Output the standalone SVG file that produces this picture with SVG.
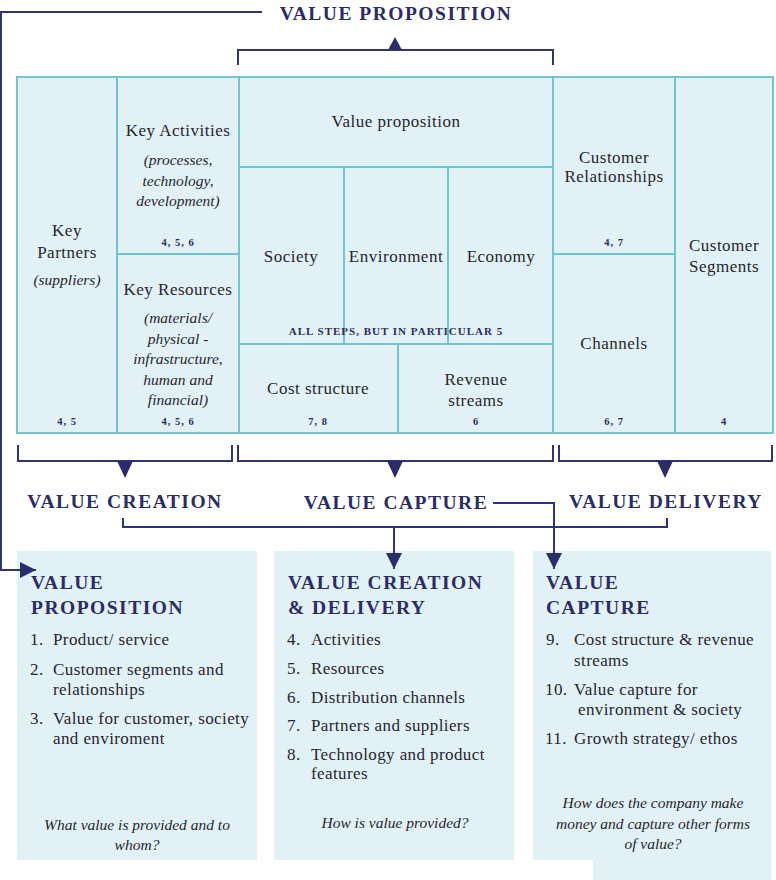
<svg xmlns="http://www.w3.org/2000/svg" width="776" height="880" viewBox="0 0 776 880">
<style>
.cell{fill:#e2f1f5;stroke:#6fc6cf;stroke-width:2}
.grid{stroke:#6fc6cf;stroke-width:2;fill:none}
.box{fill:#e2f1f5}
.t{font-family:"Liberation Serif",serif;font-size:17px;letter-spacing:0.5px;fill:#26262f;text-anchor:middle}
.i{font-family:"Liberation Serif",serif;font-size:15.5px;font-style:italic;fill:#26262f;text-anchor:middle}
.n{font-family:"Liberation Serif",serif;font-size:10.5px;font-weight:bold;letter-spacing:1px;fill:#2b2d5e;text-anchor:middle}
.cap{font-family:"Liberation Serif",serif;font-size:11px;font-weight:bold;fill:#2b2d5e;text-anchor:middle;letter-spacing:1px}
.h{font-family:"Liberation Serif",serif;font-size:19.5px;font-weight:bold;fill:#2a2c66;letter-spacing:1.5px}
.hm{text-anchor:middle}
.li{font-family:"Liberation Serif",serif;font-size:17px;letter-spacing:0.4px;fill:#26262f}
.q{font-family:"Liberation Serif",serif;font-size:15.5px;font-style:italic;fill:#26262f;text-anchor:middle}
.ln{stroke:#2f3474;stroke-width:2;fill:none}
.ah{fill:#2b2d6a}
</style>
<defs>
<marker id="arr" viewBox="0 0 10 10" refX="10" refY="5" markerWidth="17" markerHeight="16" markerUnits="userSpaceOnUse" orient="auto">
<path d="M0,0 L10,5 L0,10 z" fill="#2b2d6a"/>
</marker>
</defs>

<g id="canvas">
<rect class="cell" x="17" y="77" width="756" height="356"/>
<path class="grid" d="M117,77V433 M239,77V433 M553,77V433 M675,77V433 M117,254H239 M239,167H553 M239,344H553 M344,167V344 M448,167V344 M398,344V433 M553,254H675"/>
</g>

<g id="key-partners">
<text class="t" x="67" y="236">Key</text>
<text class="t" x="67" y="258">Partners</text>
<text class="i" x="67" y="285">(suppliers)</text>
<text class="n" x="67" y="425">4, 5</text>
</g>
<g id="key-activities">
<text class="t" x="178" y="136">Key Activities</text>
<text class="i" x="178" y="165">(processes,</text>
<text class="i" x="178" y="186">technology,</text>
<text class="i" x="178" y="206">development)</text>
<text class="n" x="178" y="246">4, 5, 6</text>
</g>
<g id="key-resources">
<text class="t" x="178" y="295">Key Resources</text>
<text class="i" x="178" y="323">(materials/</text>
<text class="i" x="178" y="344">physical -</text>
<text class="i" x="178" y="364">infrastructure,</text>
<text class="i" x="178" y="385">human and</text>
<text class="i" x="178" y="405">financial)</text>
<text class="n" x="178" y="425">4, 5, 6</text>
</g>
<g id="value-proposition">
<text class="t" x="396" y="127">Value proposition</text>
</g>
<g id="society"><text class="t" x="291" y="262">Society</text></g>
<g id="environment"><text class="t" x="396" y="262">Environment</text></g>
<g id="economy"><text class="t" x="501" y="262">Economy</text></g>
<g id="all-steps"><text class="cap" x="396" y="335">ALL STEPS, BUT IN PARTICULAR 5</text></g>
<g id="cost-structure">
<text class="t" x="318" y="394">Cost structure</text>
<text class="n" x="318" y="425">7, 8</text>
</g>
<g id="revenue-streams">
<text class="t" x="476" y="385">Revenue</text>
<text class="t" x="476" y="406">streams</text>
<text class="n" x="476" y="425">6</text>
</g>
<g id="customer-relationships">
<text class="t" x="614" y="163">Customer</text>
<text class="t" x="614" y="182">Relationships</text>
<text class="n" x="614" y="246">4, 7</text>
</g>
<g id="channels">
<text class="t" x="614" y="349">Channels</text>
<text class="n" x="614" y="425">6, 7</text>
</g>
<g id="customer-segments">
<text class="t" x="724" y="251">Customer</text>
<text class="t" x="724" y="272">Segments</text>
<text class="n" x="724" y="425">4</text>
</g>

<g id="label-value-proposition"><text class="h hm" x="396" y="20">VALUE PROPOSITION</text></g>
<g id="label-value-creation"><text class="h hm" x="125" y="508">VALUE CREATION</text></g>
<g id="label-value-capture"><text class="h hm" x="396" y="509">VALUE CAPTURE</text></g>
<g id="label-value-delivery"><text class="h hm" x="666" y="508">VALUE DELIVERY</text></g>

<g id="box-value-proposition">
<rect class="box" x="17" y="551" width="240" height="309"/>
<text class="h" x="31" y="589">VALUE</text>
<text class="h" x="31" y="614">PROPOSITION</text>
<text class="li" x="30" y="645">1.</text><text class="li" x="53" y="645">Product/ service</text>
<text class="li" x="30" y="675">2.</text><text class="li" x="53" y="675">Customer segments and</text>
<text class="li" x="53" y="695">relationships</text>
<text class="li" x="30" y="724">3.</text><text class="li" x="53" y="724">Value for customer, society</text>
<text class="li" x="53" y="744">and enviroment</text>
<text class="q" x="137" y="830">What value is provided and to</text>
<text class="q" x="137" y="850">whom?</text>
</g>
<g id="box-value-creation-delivery">
<rect class="box" x="274" y="551" width="240" height="309"/>
<text class="h" x="288" y="589">VALUE CREATION</text>
<text class="h" x="288" y="614">&amp; DELIVERY</text>
<text class="li" x="287" y="645">4.</text><text class="li" x="311" y="645">Activities</text>
<text class="li" x="287" y="674">5.</text><text class="li" x="311" y="674">Resources</text>
<text class="li" x="287" y="703">6.</text><text class="li" x="311" y="703">Distribution channels</text>
<text class="li" x="287" y="731">7.</text><text class="li" x="311" y="731">Partners and suppliers</text>
<text class="li" x="287" y="760">8.</text><text class="li" x="311" y="760">Technology and product</text>
<text class="li" x="311" y="779">features</text>
<text class="q" x="395" y="828">How is value provided?</text>
</g>
<g id="box-value-capture">
<path class="box" d="M533,551H771V880H593V860H533Z"/>
<text class="h" x="546" y="589">VALUE</text>
<text class="h" x="546" y="614">CAPTURE</text>
<text class="li" x="546" y="645">9.</text><text class="li" x="574" y="645">Cost structure &amp; revenue</text>
<text class="li" x="574" y="666">streams</text>
<text class="li" x="545" y="695">10.</text><text class="li" x="574" y="695">Value capture for</text>
<text class="li" x="578" y="715">environment &amp; society</text>
<text class="li" x="545" y="744">11.</text><text class="li" x="574" y="744">Growth strategy/ ethos</text>
<text class="q" x="653" y="808">How does the company make</text>
<text class="q" x="653" y="829">money and capture other forms</text>
<text class="q" x="653" y="849">of value?</text>
</g>

<g id="connectors">
<path class="ln" d="M262,12H1V570H36" marker-end="url(#arr)"/>
<path class="ln" d="M238,65V50H553V65"/>
<path class="ah" d="M388,50L395,37L402,50Z"/>
<path class="ln" d="M18,445V461H232V445"/>
<path class="ah" d="M117,461L125,478L133,461Z"/>
<path class="ln" d="M238,445V461H553V445"/>
<path class="ah" d="M387,461L395,478L403,461Z"/>
<path class="ln" d="M559,445V461H772V445"/>
<path class="ah" d="M657,461L665,478L673,461Z"/>
<path class="ln" d="M123,518V527H667V518"/>
<path class="ln" d="M394,527V569" marker-end="url(#arr)"/>
<path class="ln" d="M493,503H554V569" marker-end="url(#arr)"/>
</g>
</svg>
